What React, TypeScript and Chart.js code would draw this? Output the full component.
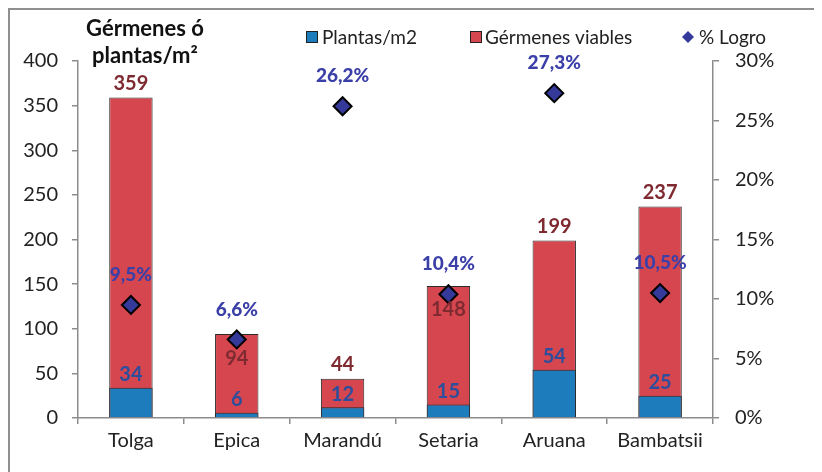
import React, { useEffect, useRef } from "react";
import { Chart, registerables } from "chart.js";

Chart.register(...registerables);

const categories = ["Tolga", "Epica", "Marandú", "Setaria", "Aruana", "Bambatsii"];
const plantas = [34, 6, 12, 15, 54, 25];
const germenes = [359, 94, 44, 148, 199, 237];
const logro = [0.095, 0.066, 0.262, 0.104, 0.273, 0.105];
const leftTicks = [0, 50, 100, 150, 200, 250, 300, 350, 400];

const FONT = "Lato, 'Open Sans', 'Noto Sans', sans-serif";
const BLUE = "#1C7CBC";
const RED = "#D5464F";
const DIAMOND = "#34399A";
const PCT_LABEL = "#3B3FA8";
const RED_LABEL = "#7E2A30";
const BLUE_LABEL = "#2C4E9C";
const AXIS = "#8C8C8C";

const fmtPct = (v: number) => (v * 100).toFixed(1).replace(".", ",") + "%";

// Value labels, legend and axis title drawn on top of the datasets
const overlayPlugin = {
  id: "overlay",
  afterDatasetsDraw(chart: any) {
    const ctx = chart.ctx as CanvasRenderingContext2D;
    const blueMeta = chart.getDatasetMeta(1);
    const redMeta = chart.getDatasetMeta(2);
    const lineMeta = chart.getDatasetMeta(0);
    ctx.save();
    ctx.textAlign = "center";
    ctx.textBaseline = "middle";

    categories.forEach((_, i) => {
      const redBar = redMeta.data[i];
      const blueBar = blueMeta.data[i];
      const pt = lineMeta.data[i];
      ctx.font = `bold 20px ${FONT}`;
      // red totals: above the bar, or just inside it when the diamond sits on the bar top
      const nearTop = Math.abs(pt.y - redBar.y) < 30;
      ctx.fillStyle = RED_LABEL;
      ctx.fillText(String(germenes[i]), redBar.x, nearTop ? redBar.y + 24 : redBar.y - 14);
      // blue values just above the blue bar
      ctx.fillStyle = BLUE_LABEL;
      ctx.fillText(String(plantas[i]), blueBar.x, blueBar.y - 13);
      // percentages above the diamonds
      ctx.fillStyle = PCT_LABEL;
      ctx.font = `900 19px ${FONT}`;
      ctx.fillText(fmtPct(logro[i]), pt.x, pt.y - 30);
    });

    // axis title
    ctx.fillStyle = "#111";
    ctx.font = `bold 22px ${FONT}`;
    ctx.textBaseline = "alphabetic";
    ctx.fillText("Gérmenes ó", 135, 26);
    ctx.fillText("plantas/m²", 135, 53);

    // legend
    const ly = 27;
    ctx.font = `19px ${FONT}`;
    ctx.textAlign = "left";
    ctx.textBaseline = "middle";
    ctx.lineWidth = 1;
    ctx.strokeStyle = "#222";
    ctx.fillStyle = BLUE;
    ctx.fillRect(296, ly - 6, 12, 12);
    ctx.strokeRect(296.5, ly - 5.5, 11, 11);
    ctx.fillStyle = "#222";
    ctx.fillText("Plantas/m2", 312, ly + 1);
    ctx.fillStyle = RED;
    ctx.fillRect(460, ly - 6, 12, 12);
    ctx.strokeRect(460.5, ly - 5.5, 11, 11);
    ctx.fillStyle = "#222";
    ctx.fillText("Gérmenes viables", 475, ly + 1);
    ctx.fillStyle = DIAMOND;
    ctx.beginPath();
    ctx.moveTo(678, ly - 6);
    ctx.lineTo(684, ly);
    ctx.lineTo(678, ly + 6);
    ctx.lineTo(672, ly);
    ctx.closePath();
    ctx.fill();
    ctx.fillStyle = "#222";
    ctx.fillText("% Logro", 689, ly + 1);
    ctx.restore();
  },
};

export default function App() {
  const ref = useRef<HTMLCanvasElement>(null);

  useEffect(() => {
    if (!ref.current) return;
    const chart = new Chart(ref.current, {
      type: "bar",
      data: {
        labels: categories,
        datasets: [
          {
            type: "line",
            label: "% Logro",
            data: logro,
            yAxisID: "y1",
            showLine: false,
            pointStyle: "rectRot",
            pointRadius: 9,
            pointBackgroundColor: DIAMOND,
            pointBorderColor: "#000",
            pointBorderWidth: 2,
            order: 0,
          } as any,
          {
            label: "Plantas/m2",
            data: plantas,
            backgroundColor: BLUE,
            borderColor: "#2a2a2a",
            borderWidth: 1,
            yAxisID: "y",
            order: 1,
          },
          {
            label: "Gérmenes viables",
            data: germenes,
            backgroundColor: RED,
            borderColor: "#2a2a2a",
            borderWidth: 1,
            yAxisID: "y",
            order: 2,
          },
        ],
      },
      options: {
        responsive: false,
        animation: false,
        events: [],
        layout: { padding: { top: 51, left: 0, right: 0, bottom: 0 } },
        datasets: { bar: { categoryPercentage: 1, barPercentage: 0.41 } },
        plugins: { legend: { display: false }, tooltip: { enabled: false } },
        scales: {
          x: {
            stacked: true,
            offset: true,
            grid: {
              display: true,
              drawOnChartArea: false,
              drawTicks: true,
              tickLength: 6,
              color: AXIS,
              lineWidth: 1.5,
              offset: true,
            },
            border: { color: AXIS, width: 1.5 },
            ticks: { color: "#222", font: { size: 20, family: FONT }, padding: 5 },
            afterFit: (s: any) => {
              s.height = 54;
            },
          },
          y: {
            position: "left",
            min: 0,
            max: 400,
            afterBuildTicks: (s: any) => {
              s.ticks = leftTicks.map((v) => ({ value: v }));
            },
            grid: {
              drawOnChartArea: false,
              drawTicks: true,
              tickLength: 6,
              color: AXIS,
              lineWidth: 1.5,
            },
            border: { color: AXIS, width: 1.5 },
            ticks: { color: "#222", font: { size: 20, family: FONT }, padding: 14 },
            afterFit: (s: any) => {
              s.width = 68;
            },
          },
          y1: {
            position: "right",
            min: 0,
            max: 0.3,
            grid: {
              drawOnChartArea: false,
              drawTicks: true,
              tickLength: 6,
              color: AXIS,
              lineWidth: 1.5,
            },
            border: { color: AXIS, width: 1.5 },
            ticks: {
              stepSize: 0.05,
              color: "#222",
              font: { size: 20, family: FONT },
              padding: 16,
              callback: (v: any) => Math.round(Number(v) * 100) + "%",
            },
            afterFit: (s: any) => {
              s.width = 109;
            },
          },
        },
      },
      plugins: [overlayPlugin],
    });
    return () => chart.destroy();
  }, []);

  return (
    <div
      style={{
        width: 814,
        height: 464,
        boxSizing: "border-box",
        borderTop: "2px solid #8f8f8f",
        borderLeft: "2px solid #8f8f8f",
        background: "#fff",
      }}
    >
      <canvas ref={ref} width={812} height={462} style={{ display: "block" }} />
    </div>
  );
}
